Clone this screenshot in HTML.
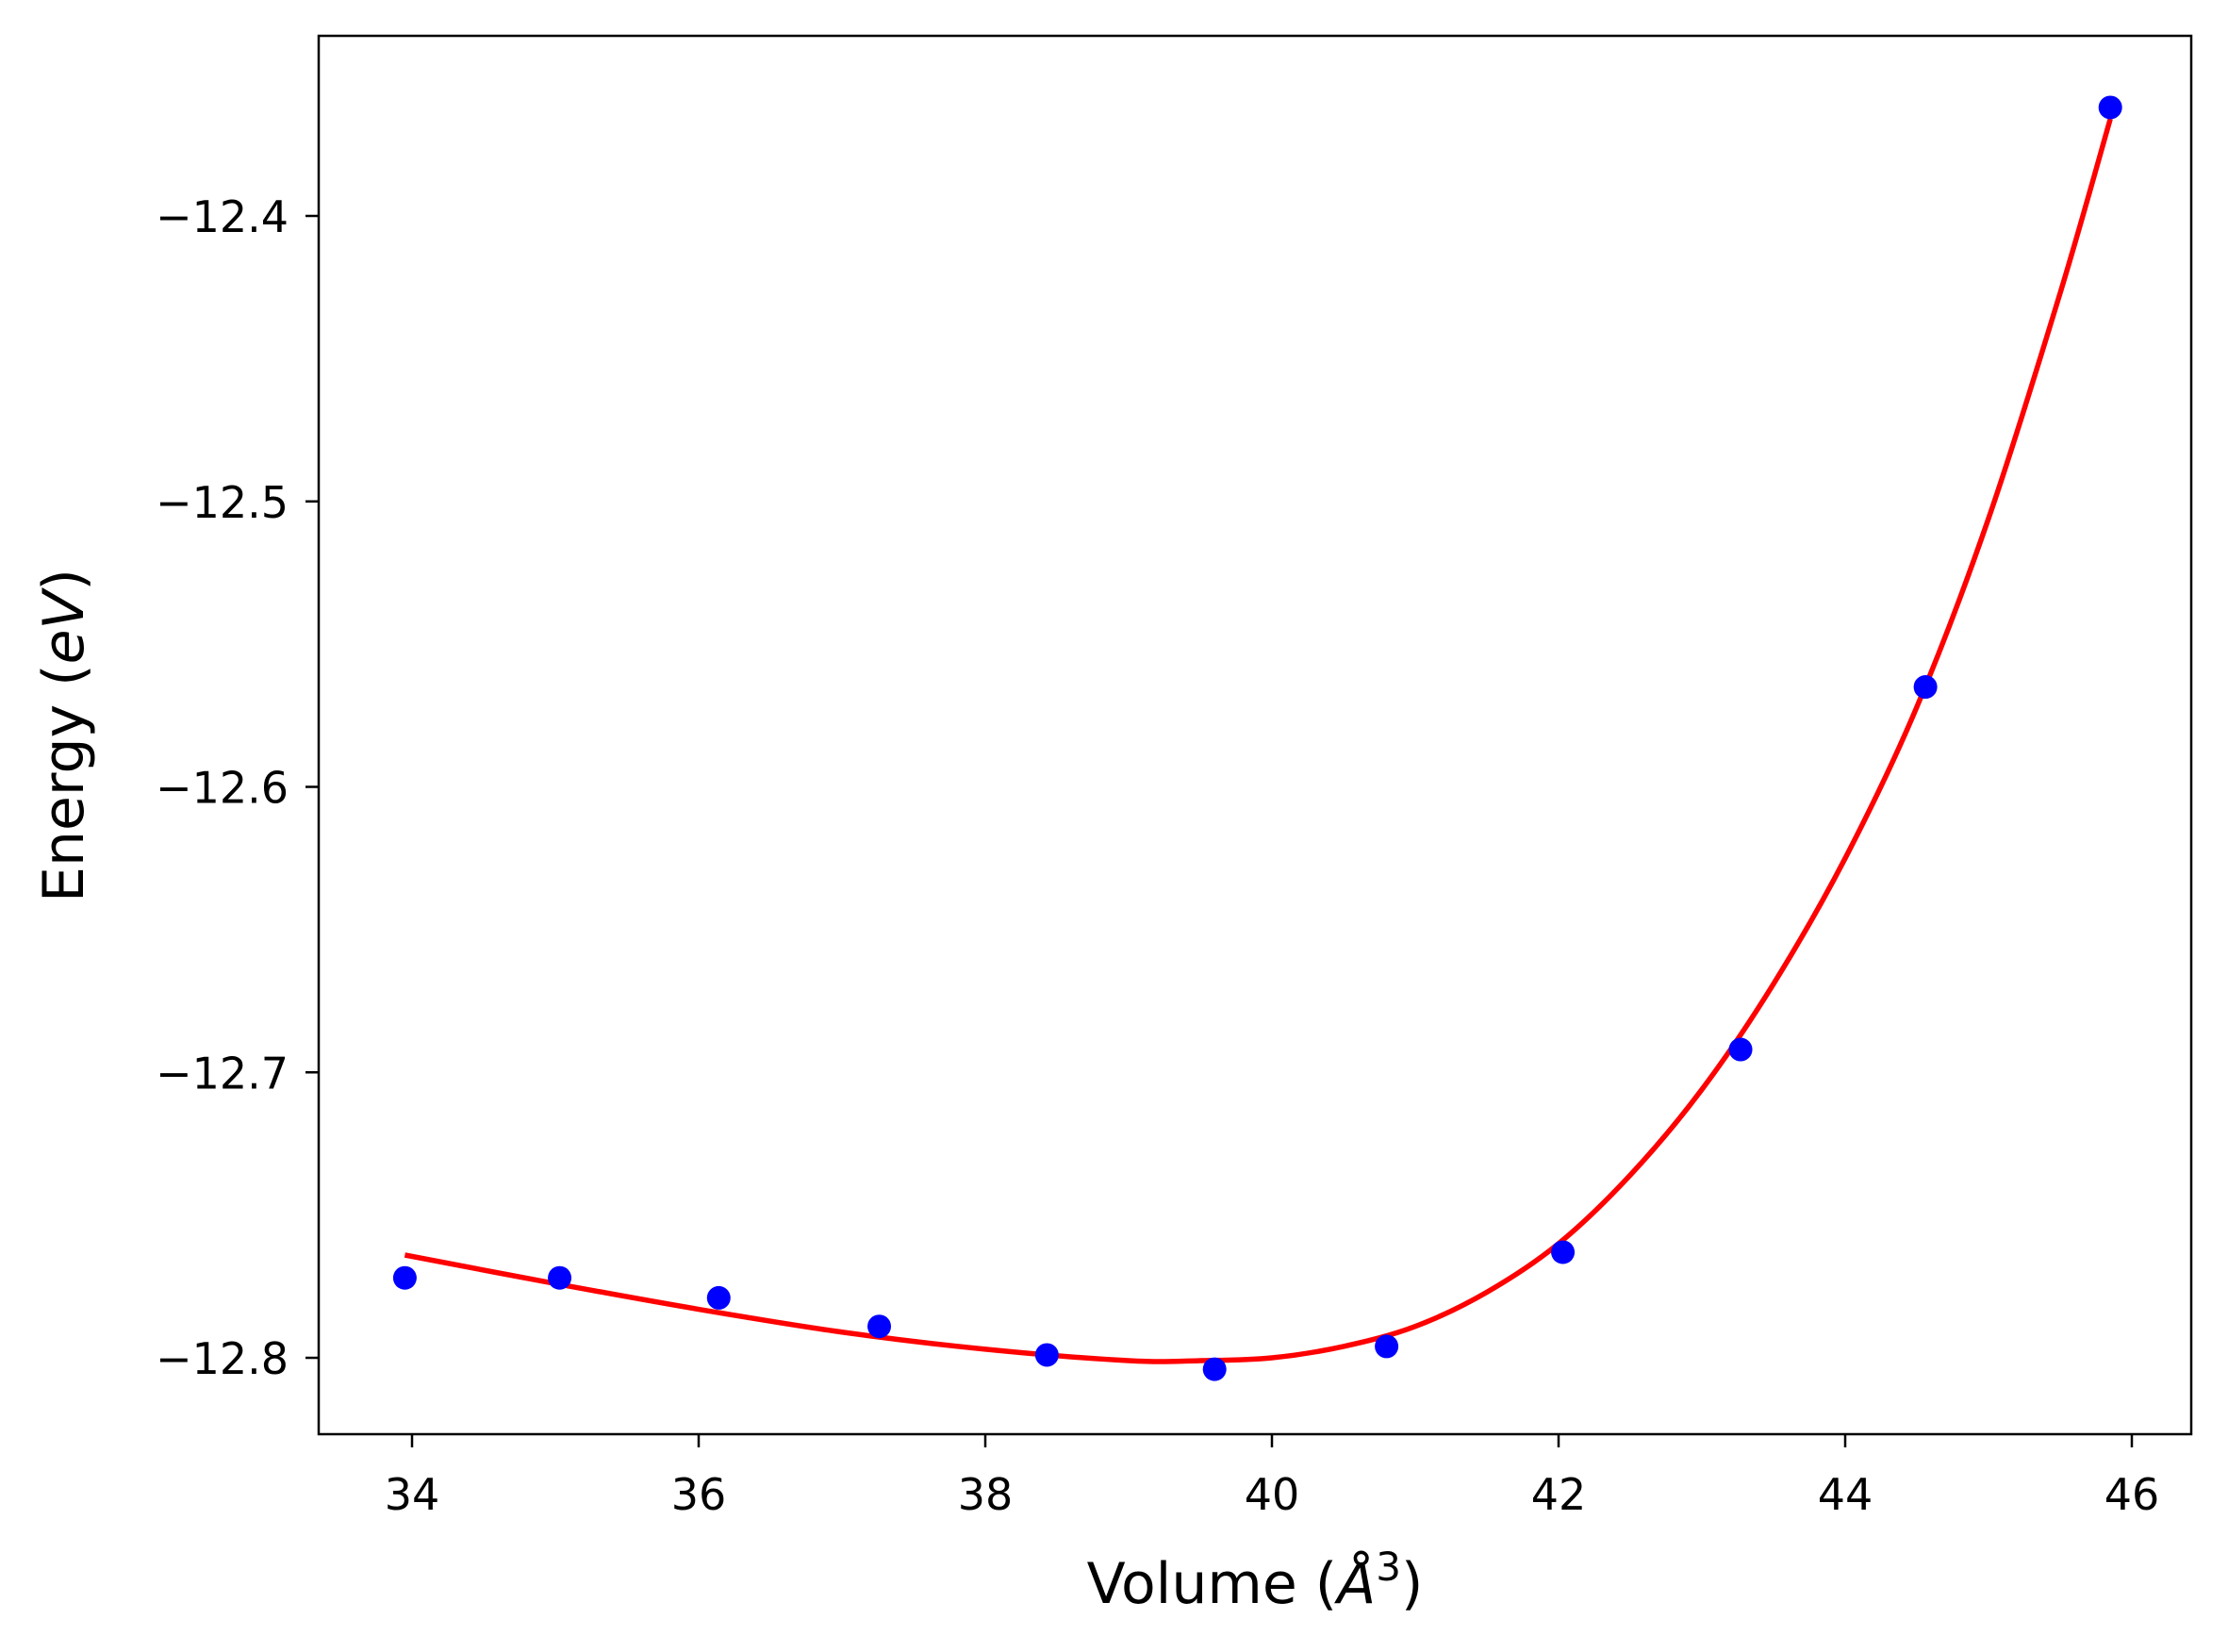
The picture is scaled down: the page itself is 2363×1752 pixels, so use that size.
<!DOCTYPE html>
<html><head><meta charset="utf-8"><style>
body{margin:0;background:#fff}
text{font-family:"DejaVu Sans","Liberation Sans",sans-serif;fill:#000}
</style></head><body>
<svg id="chart" width="2363" height="1747" xmlns="http://www.w3.org/2000/svg">
<rect width="2363" height="1747" fill="#fff"/>
<g id="plot"></g>
<rect x="338" y="38" width="1986" height="1483" fill="none" stroke="#000" stroke-width="2.5"/>
<text x="1331" y="1700" font-size="60" text-anchor="middle">Volume (<tspan font-style="italic">Å</tspan><tspan font-size="42" dy="-24">3</tspan><tspan dy="24">)</tspan></text>
<text transform="translate(88,780) rotate(-90)" font-size="60" text-anchor="middle">Energy (<tspan font-style="italic">eV</tspan>)</text>
</svg>
<script>
const xTicks=[34,36,38,40,42,44,46];
const yTicks=[-12.4,-12.5,-12.6,-12.7,-12.8];
const yTickLabels=["−12.4","−12.5","−12.6","−12.7","−12.8"];
const volumes=[33.95,35.03,36.14,37.26,38.43,39.6,40.8,42.03,43.27,44.56,45.85];
const energies=[-12.772,-12.772,-12.779,-12.789,-12.799,-12.804,-12.796,-12.763,-12.692,-12.565,-12.362];
const fitX=[33.95,35,36,37,38,39,39.5,40,40.5,41,41.5,42,42.5,43,43.5,44,44.5,45,45.5,45.85];
const fitY=[-12.764,-12.774,-12.783,-12.791,-12.797,-12.801,-12.801,-12.800,-12.796,-12.789,-12.777,-12.760,-12.736,-12.706,-12.669,-12.625,-12.572,-12.506,-12.427,-12.366];
const X=v=>437+(v-34)*152;
const Y=v=>229+(-12.4-v)*3027.5;
const g=document.getElementById('plot');
const NS='http://www.w3.org/2000/svg';
function mk(t,a){const e=document.createElementNS(NS,t);for(const k in a)e.setAttribute(k,a[k]);g.appendChild(e);return e;}
xTicks.forEach(t=>{
 const l=mk('line',{x1:X(t),x2:X(t),y1:1521,y2:1535,stroke:'#000','stroke-width':2.5});
 
 
 const s=mk('text',{x:X(t),y:1601,'font-size':46,'text-anchor':'middle'});s.textContent=t;
 
 
});
yTicks.forEach((t,i)=>{
 const l=mk('line',{x1:324,x2:338,y1:Y(t),y2:Y(t),stroke:'#000','stroke-width':2.5});
 
 
 const s=mk('text',{x:306,y:Y(t)+17,'font-size':46,'text-anchor':'end'});s.textContent=yTickLabels[i];
 
 
});
const pts=fitX.map((x,i)=>[X(x),Y(fitY[i])]);
let d='M'+pts[0].join(',');
for(let i=0;i<pts.length-1;i++){
 const p0=pts[Math.max(i-1,0)],p1=pts[i],p2=pts[i+1],p3=pts[Math.min(i+2,pts.length-1)];
 d+=` C${p1[0]+(p2[0]-p0[0])/6},${p1[1]+(p2[1]-p0[1])/6} ${p2[0]-(p3[0]-p1[0])/6},${p2[1]-(p3[1]-p1[1])/6} ${p2[0]},${p2[1]}`;
}
const fit=mk('path',{d:d,fill:'none',stroke:'#ff0000','stroke-width':5.5});


volumes.forEach((v,i)=>{
 const c=mk('circle',{cx:X(v),cy:Y(energies[i]),r:12.5,fill:'#0000ff'});
 
 
});
</script>
</body></html>
